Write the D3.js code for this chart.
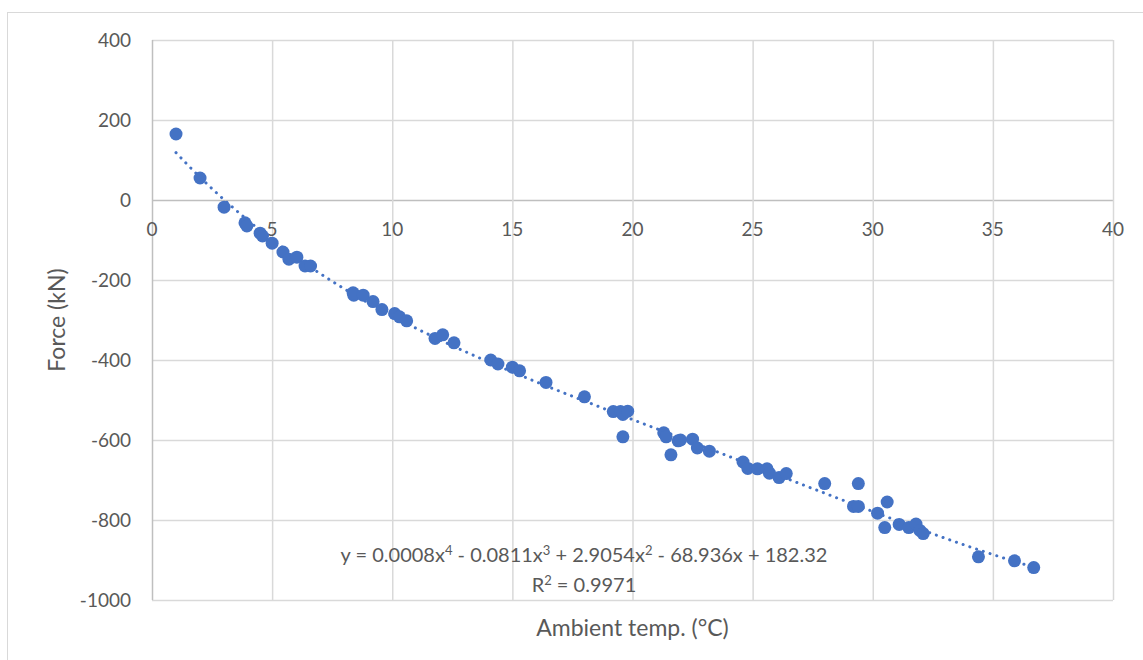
<!DOCTYPE html>
<html>
<head>
<meta charset="utf-8">
<script src="https://cdn.jsdelivr.net/npm/d3@7"></script>
<style>
  body { margin: 0; background: #fff; }
  text { font-family: Lato, "Open Sans", sans-serif; fill: #595959; }
</style>
</head>
<body>
<div id="chart"></div>
<script>
// Readings: ambient temperature (°C) and force (kN)
const temps = [1.0, 2.0, 3.0, 3.87, 3.95, 4.5, 4.6, 5.0, 5.45, 5.7, 6.03, 6.37, 6.6,
  8.37, 8.4, 8.79, 9.2, 9.57, 10.1, 10.3, 10.6, 11.78, 12.1, 12.57, 14.1, 14.4, 15.0, 15.3,
  16.4, 18.0, 19.2, 19.5, 19.6, 19.8, 19.6, 21.3, 21.4, 21.6, 21.9, 22.0, 22.5, 22.7, 23.2,
  24.6, 24.8, 25.2, 25.6, 25.7, 26.1, 26.4, 28.0, 29.4, 29.2, 29.4, 30.2, 30.6, 30.5,
  31.1, 31.5, 31.8, 31.96, 32.1, 34.4, 35.9, 36.7];
const forces = [165, 55, -18, -57, -65, -83, -90, -108, -130, -148, -143, -165, -165,
  -232, -238, -238, -254, -274, -284, -292, -302, -346, -337, -357, -400, -410, -418, -427,
  -456, -492, -529, -529, -536, -528, -592, -582, -592, -637, -602, -600, -598, -620, -628,
  -655, -671, -672, -672, -683, -694, -684, -709, -709, -766, -766, -783, -755, -819,
  -811, -819, -810, -826, -834, -892, -902, -919];

const xTicks = [0, 5, 10, 15, 20, 25, 30, 35, 40];
const yTicks = [400, 200, 0, -200, -400, -600, -800, -1000];
const trendDegree = 4;

const width = 1143, height = 660;
const margin = { top: 40, right: 30, bottom: 60, left: 152 };

const svg = d3.select("#chart").append("svg")
  .attr("width", width)
  .attr("height", height);

// chart area border
svg.append("rect")
  .attr("x", 7.5).attr("y", 12.5)
  .attr("width", width + 10).attr("height", height + 10)
  .attr("fill", "none").attr("stroke", "#d9d9d9");

const x = d3.scaleLinear().domain([0, 40]).range([margin.left, 1113]);
const y = d3.scaleLinear().domain([-1000, 400]).range([600, margin.top]);

// gridlines
svg.append("g").selectAll("line").data(yTicks).enter().append("line")
  .attr("x1", x(0)).attr("x2", x(40))
  .attr("y1", d => y(d) + 0.5).attr("y2", d => y(d) + 0.5)
  .attr("stroke", d => d === 0 ? "#bfbfbf" : "#d9d9d9")
  .attr("stroke-width", 1.5);

svg.append("g").selectAll("line").data(xTicks.slice(1)).enter().append("line")
  .attr("y1", y(400)).attr("y2", y(-1000))
  .attr("x1", d => x(d) + 0.5).attr("x2", d => x(d) + 0.5)
  .attr("stroke", "#d9d9d9")
  .attr("stroke-width", 1.5);

// vertical axis line
svg.append("line")
  .attr("x1", x(0) + 0.5).attr("x2", x(0) + 0.5)
  .attr("y1", y(400)).attr("y2", y(-1000))
  .attr("stroke", "#bfbfbf").attr("stroke-width", 1.5);

// y tick labels
svg.append("g").selectAll("text").data(yTicks).enter().append("text")
  .attr("x", 131).attr("y", d => y(d))
  .attr("dy", "0.35em")
  .attr("text-anchor", "end")
  .style("font-size", "19px")
  .text(d => d);

// x tick labels sit under the zero line
svg.append("g").selectAll("text").data(xTicks).enter().append("text")
  .attr("x", d => x(d)).attr("y", y(0) + 29)
  .attr("dy", "0.35em")
  .attr("text-anchor", "middle")
  .style("font-size", "19px")
  .text(d => d);

// least-squares polynomial trendline (same thing the spreadsheet fits)
function polyFit(xs, ys, deg) {
  const n = deg + 1;
  const A = d3.range(n).map(() => new Array(n + 1).fill(0));
  xs.forEach((xv, k) => {
    const u = xv / 10;
    for (let i = 0; i < n; i++) {
      for (let j = 0; j < n; j++) A[i][j] += Math.pow(u, i + j);
      A[i][n] += Math.pow(u, i) * ys[k];
    }
  });
  for (let c = 0; c < n; c++) {
    let p = c;
    for (let r = c + 1; r < n; r++) if (Math.abs(A[r][c]) > Math.abs(A[p][c])) p = r;
    [A[c], A[p]] = [A[p], A[c]];
    for (let r = 0; r < n; r++) {
      if (r === c) continue;
      const f = A[r][c] / A[c][c];
      for (let k = c; k <= n; k++) A[r][k] -= f * A[c][k];
    }
  }
  const coef = A.map((row, i) => row[n] / row[i]);
  return t => coef.reduce((acc, c, i) => acc + c * Math.pow(t / 10, i), 0);
}
const trend = polyFit(temps, forces, trendDegree);
const tx = d3.range(d3.min(temps), d3.max(temps) + 0.001, 0.1);
svg.append("path")
  .datum(tx)
  .attr("d", d3.line().x(d => x(d)).y(d => y(trend(d))))
  .attr("fill", "none")
  .attr("stroke", "#4472c4")
  .attr("stroke-width", 3)
  .attr("stroke-linecap", "round")
  .attr("stroke-dasharray", "0.1 7");

// points
svg.append("g").selectAll("circle").data(temps).enter().append("circle")
  .attr("cx", d => x(d))
  .attr("cy", (d, i) => y(forces[i]))
  .attr("r", 6.5)
  .attr("fill", "#4472c4");

// trendline label
svg.append("text")
  .attr("x", 584).attr("y", 555).attr("dy", "0.35em")
  .attr("text-anchor", "middle")
  .style("font-size", "20px")
  .html('y = 0.0008x<tspan dy="-7" font-size="13">4</tspan><tspan dy="7"> - 0.0811x</tspan><tspan dy="-7" font-size="13">3</tspan><tspan dy="7"> + 2.9054x</tspan><tspan dy="-7" font-size="13">2</tspan><tspan dy="7"> - 68.936x + 182.32</tspan>');
svg.append("text")
  .attr("x", 584).attr("y", 585).attr("dy", "0.35em")
  .attr("text-anchor", "middle")
  .style("font-size", "20px")
  .html('R<tspan dy="-7" font-size="13">2</tspan><tspan dy="7"> = 0.9971</tspan>');

// axis titles
svg.append("text")
  .attr("x", (x(0) + x(40)) / 2).attr("y", 628).attr("dy", "0.35em")
  .attr("text-anchor", "middle")
  .style("font-size", "23px")
  .text("Ambient temp. (°C)");

svg.append("text")
  .attr("transform", "translate(57," + (y(400) + y(-1000)) / 2 + ") rotate(-90)")
  .attr("dy", "0.35em")
  .attr("text-anchor", "middle")
  .style("font-size", "23px")
  .text("Force (kN)");
</script>
</body>
</html>
